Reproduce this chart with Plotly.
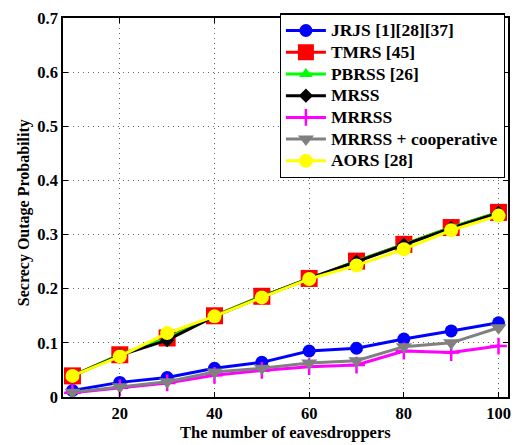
import plotly.graph_objects as go

x_vals = [10, 20, 30, 40, 50, 60, 70, 80, 90, 100]

jrjs = [0.012, 0.027, 0.036, 0.053, 0.064, 0.085, 0.090, 0.107, 0.122, 0.137]
tmrs = [0.039, 0.078, 0.109, 0.150, 0.186, 0.219, 0.251, 0.282, 0.313, 0.341]
pbrss = [0.039, 0.078, 0.108, 0.150, 0.186, 0.219, 0.251, 0.282, 0.313, 0.341]
mrss = [0.039, 0.077, 0.105, 0.149, 0.185, 0.219, 0.250, 0.281, 0.312, 0.340]
mrrss = [0.008, 0.017, 0.026, 0.040, 0.049, 0.056, 0.059, 0.085, 0.082, 0.094]
mrrss_coop = [0.009, 0.019, 0.028, 0.046, 0.053, 0.063, 0.067, 0.093, 0.100, 0.128]
aors = [0.039, 0.075, 0.118, 0.149, 0.184, 0.218, 0.243, 0.273, 0.308, 0.335]

x_ticks = [20, 40, 60, 80, 100]
x_tick_text = ["20", "40", "60", "80", "100"]
y_ticks = [0, 0.1, 0.2, 0.3, 0.4, 0.5, 0.6, 0.7]
y_tick_text = ["0", "0.1", "0.2", "0.3", "0.4", "0.5", "0.6", "0.7"]

FONT = "'Liberation Serif', 'Times New Roman', Times, serif"

series = [
    ("JRJS [1][28][37]", jrjs, "#0000ff", "circle", 13, 3),
    ("TMRS [45]", tmrs, "#ff0000", "square", 17, 3),
    ("PBRSS [26]", pbrss, "#00ff00", "triangle-up", 12, 3),
    ("MRSS", mrss, "#000000", "diamond", 11, 3),
    ("MRRSS", mrrss, "#ff00ff", "cross-thin", 12, 3),
    ("MRRSS + cooperative", mrrss_coop, "#808080", "triangle-down", 14, 3),
    ("AORS [28]", aors, "#ffff00", "circle", 14, 3),
]

fig = go.Figure()
for name, ys, color, sym, size, lw in series:
    marker = dict(symbol=sym, size=size, color=color)
    if sym == "cross-thin":
        marker["line"] = dict(color=color, width=2.5)
    else:
        marker["line"] = dict(width=0)
    fig.add_trace(go.Scatter(
        x=x_vals, y=ys,
        name='<span style="font-size:17.5px"><b>' + name + "</b></span>",
        mode="lines+markers",
        line=dict(color=color, width=lw), marker=marker,
    ))

def bold(lst):
    return ["<b>" + t + "</b>" for t in lst]

axis_common = dict(
    showline=True, linecolor="black", linewidth=1.5, mirror="ticks",
    ticks="inside", ticklen=5, tickcolor="black", tickwidth=1,
    showgrid=True, gridcolor="#666666", gridwidth=1, griddash="1px,4px",
    zeroline=False,
    tickfont=dict(family=FONT, size=16.5, color="black"),
)

fig.update_layout(
    width=520, height=445,
    margin=dict(l=63, r=9, t=12, b=48),
    paper_bgcolor="white", plot_bgcolor="white",
    font=dict(family=FONT, color="black"),
    xaxis=dict(range=[8, 102], tickvals=x_ticks, ticktext=bold(x_tick_text),
               **axis_common),
    yaxis=dict(range=[0, 0.7], tickvals=y_ticks, ticktext=bold(y_tick_text),
               **axis_common),
    legend=dict(x=0.487, y=1.012, xanchor="left", yanchor="top",
                bgcolor="white", bordercolor="black", borderwidth=1.2,
                font=dict(family=FONT, size=14.4, color="black"),
                tracegroupgap=0, itemwidth=40),
    showlegend=True,
    annotations=[
        dict(text="<b>The number of eavesdroppers</b>", xref="paper", yref="paper",
             x=0.5, y=-0.0935, xanchor="center", yanchor="middle", showarrow=False,
             font=dict(family=FONT, size=16.5, color="black")),
        dict(text="<b>Secrecy Outage Probability</b>", xref="paper", yref="paper",
             x=-0.089, y=0.486, xanchor="center", yanchor="middle", showarrow=False,
             textangle=-90, font=dict(family=FONT, size=16, color="black")),
    ],
)

fig.write_html("out.html")
